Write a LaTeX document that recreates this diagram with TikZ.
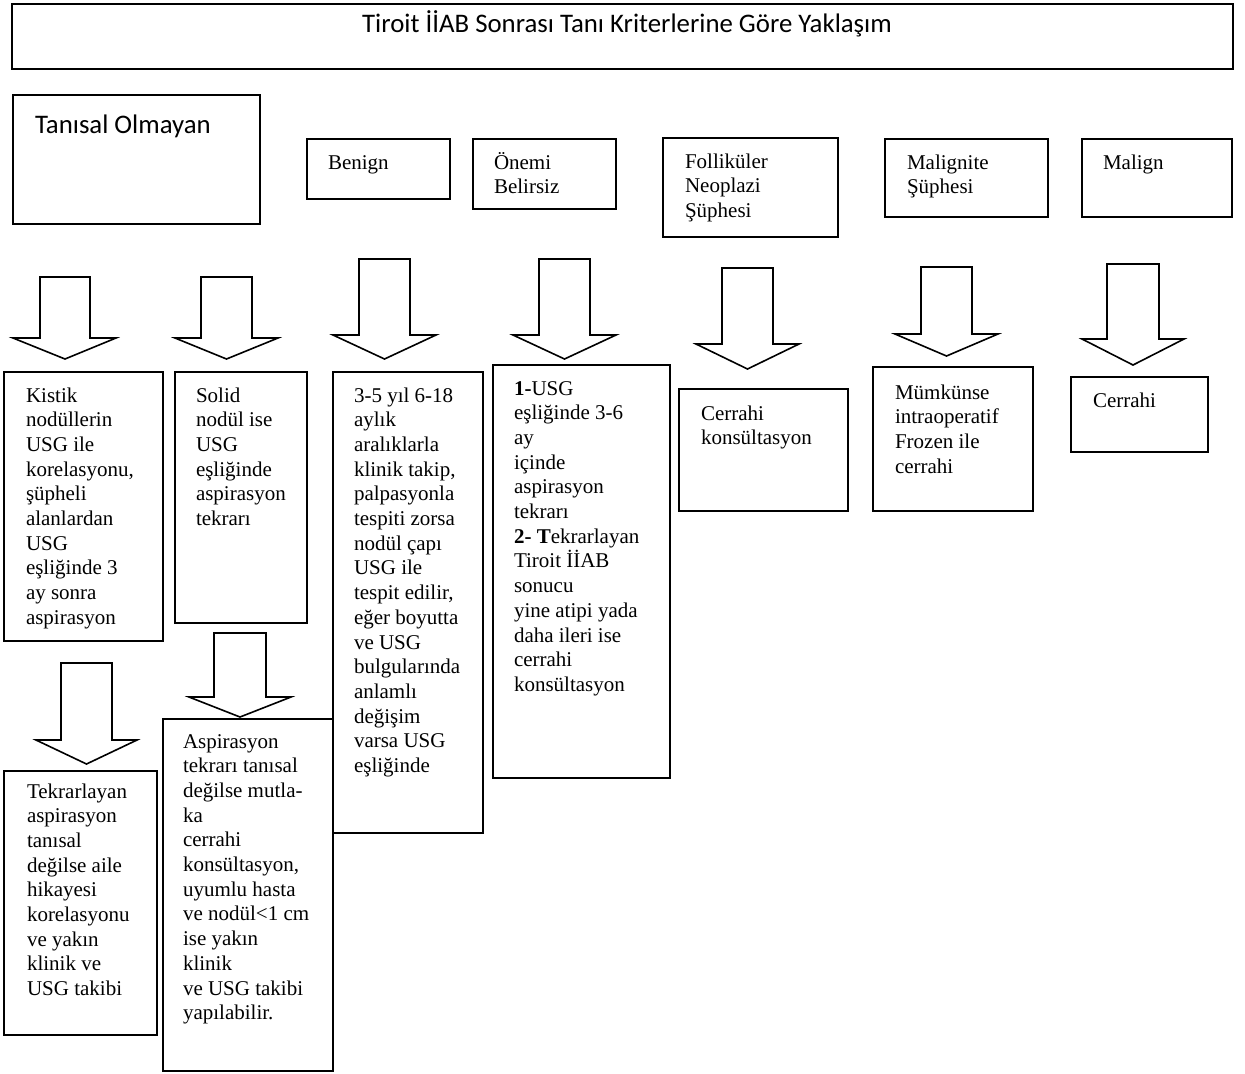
\documentclass[tikz,border=0pt]{standalone}
\usepackage{fontspec}
\setmainfont{Liberation Serif}
\newfontfamily\calfont{Carlito}
\tikzset{
  box/.style={draw=black, line width=0.8pt, inner sep=0pt, outer sep=0pt, fill=none},
  blockarrow/.style={draw=black, line width=0.8pt, line join=miter, fill=white},
  txt/.style={inner sep=0pt, outer sep=0pt, anchor=base west, font=\fontsize{10.5pt}{12.35pt}\selectfont},
  caltxt/.style={inner sep=0pt, outer sep=0pt, font=\calfont\fontsize{13.4pt}{15.5pt}\selectfont},
}
\newcommand\mybox[5]{\node[box, minimum width={(#4-#2)*0.5pt}, minimum height={(#5-#3)*0.5pt}] (#1) at ({(#2+#4)/2},{(#3+#5)/2}) {};}
% name, shaft left, shaft right, top, head base, head left, head right, tip y
\newcommand\myarrow[8]{\draw[blockarrow] (#2,#4) -- (#2,#5) -- (#6,#5) -- ({(#2+#3)/2},#8) -- (#7,#5) -- (#3,#5) -- (#3,#4) -- cycle;
  \coordinate (#1) at ({(#2+#3)/2},#8);}
\newcommand\lines[2]{\parbox[t]{#1}{#2}}
\begin{document}
\begin{tikzpicture}[x=0.5pt, y=-0.5pt]
\useasboundingbox (0,0) rectangle (1245,1073);
% ---------- title ----------
\mybox{title}{12}{4}{1233}{69}
\node[caltxt, anchor=base] (titletxt) at (627,32) {Tiroit İİAB Sonrası Tanı Kriterlerine Göre Yaklaşım};
% ---------- category boxes ----------
\mybox{tanisal}{13}{95}{260}{224}
\node[caltxt, anchor=base west] (tanisaltxt) at (35,133) {Tanısal Olmayan};
\mybox{benign}{307}{139}{450}{199}
\node[txt] (benigntxt) at (328,169) {Benign};
\mybox{onemi}{473}{139}{616}{209}
\node[txt] (onemitxt) at (494,169) {\lines{60pt}{Önemi\\Belirsiz}};
\mybox{follik}{663}{138}{838}{237}
\node[txt] (folliktxt) at (685,168) {\lines{70pt}{Folliküler\\Neoplazi\\Şüphesi}};
\mybox{malignite}{885}{139}{1048}{217}
\node[txt] (malignitetxt) at (907,169) {\lines{70pt}{Malignite\\Şüphesi}};
\mybox{malign}{1082}{139}{1232}{217}
\node[txt] (maligntxt) at (1103,169) {Malign};
% ---------- first row arrows ----------
\myarrow{a1}{40}{90}{277}{338}{13}{116}{359}
\myarrow{a2}{201}{252}{277}{338}{175}{278}{359}
\myarrow{a3}{359}{410}{259}{335}{333}{436}{359}
\myarrow{a4}{539}{590}{259}{335}{513}{616}{359}
\myarrow{a5}{722}{773}{268}{344}{696}{799}{369}
\myarrow{a6}{921}{972}{267}{334}{895}{998}{356}
\myarrow{a7}{1107}{1159}{264}{339}{1082}{1184}{365}
% ---------- second row boxes ----------
\mybox{kistik}{4}{372}{163}{641}
\node[txt] (kistiktxt) at (26,402) {\lines{75pt}{Kistik\\nodüllerin\\USG ile\\korelasyonu,\\şüpheli\\alanlardan\\USG\\eşliğinde 3\\ay sonra\\aspirasyon}};
\mybox{solid}{175}{372}{307}{623}
\node[txt] (solidtxt) at (196,402) {\lines{60pt}{Solid\\nodül ise\\USG\\eşliğinde\\aspirasyon\\tekrarı}};
\mybox{takip}{333}{372}{483}{833}
\node[txt] (takiptxt) at (354,402) {\lines{70pt}{3-5 yıl 6-18\\aylık\\aralıklarla\\klinik takip,\\palpasyonla\\tespiti zorsa\\nodül çapı\\USG ile\\tespit edilir,\\eğer boyutta\\ve USG\\bulgularında\\anlamlı\\değişim\\varsa USG\\eşliğinde}};
\mybox{usg}{493}{365}{670}{778}
\node[txt] (usgtxt) at (514,395) {\lines{80pt}{\textbf{1-}USG\\eşliğinde 3-6\\ay\\içinde\\aspirasyon\\tekrarı\\\textbf{2- T}ekrarlayan\\Tiroit İİAB\\sonucu\\yine atipi yada\\daha ileri ise\\cerrahi\\konsültasyon}};
\mybox{konsult}{679}{389}{848}{511}
\node[txt] (konsulttxt) at (701,420) {\lines{80pt}{Cerrahi\\konsültasyon}};
\mybox{frozen}{873}{367}{1033}{511}
\node[txt] (frozentxt) at (895,399) {\lines{70pt}{Mümkünse\\intraoperatif\\Frozen ile\\cerrahi}};
\mybox{cerrahi}{1071}{377}{1208}{452}
\node[txt] (cerrahitxt) at (1093,407) {Cerrahi};
% ---------- second row arrows ----------
\myarrow{a8}{61}{112}{663}{740}{36}{137}{764}
\myarrow{a9}{214}{266}{633}{697}{189}{291}{717}
% ---------- third row boxes ----------
\mybox{tekrar}{4}{771}{157}{1035}
\node[txt] (tekrartxt) at (27,798) {\lines{70pt}{Tekrarlayan\\aspirasyon\\tanısal\\değilse aile\\hikayesi\\korelasyonu\\ve yakın\\klinik ve\\USG takibi}};
\mybox{aspir}{163}{719}{333}{1071}
\node[txt] (aspirtxt) at (183,748) {\lines{80pt}{Aspirasyon\\tekrarı tanısal\\değilse mutla-\\ka\\cerrahi\\konsültasyon,\\uyumlu hasta\\ve nodül<1 cm\\ise yakın\\klinik\\ve USG takibi\\yapılabilir.}};
\end{tikzpicture}
\end{document}
